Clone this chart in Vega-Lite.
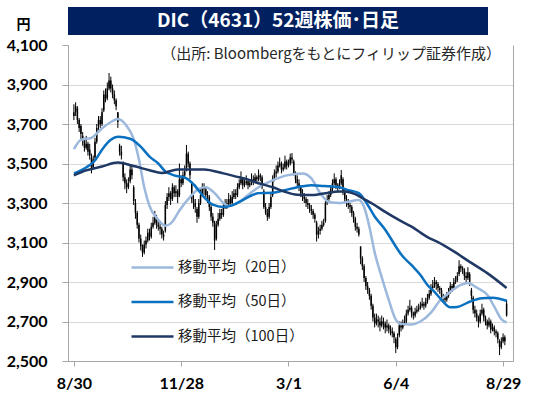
{
"$schema":"https://vega.github.io/schema/vega-lite/v6.json",
"padding":{"left":6,"top":7,"right":29,"bottom":5},
"background":"white",
"config":{"view":{"stroke":null}},
"spacing":10,
"bounds":"flush",
"datasets":{
"ohlc":[
{"i":0,"o":3740,"h":3800,"l":3720,"c":3760},{"i":1,"o":3760,"h":3810,"l":3740,"c":3790},{"i":2,"o":3780,"h":3790,"l":3700,"c":3720},{"i":3,"o":3720,"h":3730,"l":3660,"c":3680},{"i":4,"o":3690,"h":3700,"l":3620,"c":3650},{"i":5,"o":3640,"h":3660,"l":3590,"c":3620},{"i":6,"o":3620,"h":3630,"l":3560,"c":3580},{"i":7,"o":3580,"h":3640,"l":3570,"c":3600},{"i":8,"o":3600,"h":3610,"l":3540,"c":3560},{"i":9,"o":3570,"h":3600,"l":3520,"c":3540},
{"i":10,"o":3530,"h":3550,"l":3450,"c":3480},{"i":11,"o":3480,"h":3540,"l":3470,"c":3520},{"i":12,"o":3530,"h":3630,"l":3520,"c":3610},{"i":13,"o":3610,"h":3700,"l":3600,"c":3680},{"i":14,"o":3690,"h":3740,"l":3670,"c":3720},{"i":15,"o":3720,"h":3740,"l":3680,"c":3700},{"i":16,"o":3700,"h":3780,"l":3690,"c":3760},{"i":17,"o":3770,"h":3870,"l":3760,"c":3850},{"i":18,"o":3850,"h":3880,"l":3810,"c":3830},{"i":19,"o":3830,"h":3910,"l":3820,"c":3880},
{"i":20,"o":3880,"h":3958,"l":3870,"c":3920},{"i":21,"o":3920,"h":3940,"l":3860,"c":3880},{"i":22,"o":3880,"h":3900,"l":3830,"c":3850},{"i":23,"o":3850,"h":3870,"l":3800,"c":3820},{"i":24,"o":3820,"h":3830,"l":3770,"c":3790},{"i":25,"o":3760,"h":3760,"l":3680,"c":3710},{"i":26,"o":3590,"h":3600,"l":3540,"c":3560},{"i":27,"o":3560,"h":3590,"l":3520,"c":3540},{"i":28,"o":3500,"h":3510,"l":3410,"c":3430},{"i":29,"o":3430,"h":3450,"l":3370,"c":3400},
{"i":30,"o":3400,"h":3420,"l":3350,"c":3380},{"i":31,"o":3380,"h":3430,"l":3370,"c":3400},{"i":32,"o":3410,"h":3490,"l":3400,"c":3470},{"i":33,"o":3470,"h":3490,"l":3420,"c":3440},{"i":34,"o":3380,"h":3390,"l":3290,"c":3310},{"i":35,"o":3300,"h":3320,"l":3220,"c":3250},{"i":36,"o":3250,"h":3260,"l":3170,"c":3190},{"i":37,"o":3190,"h":3200,"l":3100,"c":3120},{"i":38,"o":3120,"h":3140,"l":3060,"c":3080},{"i":39,"o":3080,"h":3090,"l":3027,"c":3050},
{"i":40,"o":3050,"h":3110,"l":3040,"c":3090},{"i":41,"o":3090,"h":3130,"l":3070,"c":3110},{"i":42,"o":3110,"h":3170,"l":3100,"c":3150},{"i":43,"o":3150,"h":3170,"l":3110,"c":3130},{"i":44,"o":3130,"h":3200,"l":3120,"c":3180},{"i":45,"o":3180,"h":3230,"l":3170,"c":3200},{"i":46,"o":3200,"h":3260,"l":3190,"c":3230},{"i":47,"o":3230,"h":3240,"l":3170,"c":3190},{"i":48,"o":3190,"h":3220,"l":3160,"c":3180},{"i":49,"o":3180,"h":3200,"l":3140,"c":3170},
{"i":50,"o":3170,"h":3180,"l":3120,"c":3140},{"i":51,"o":3140,"h":3160,"l":3110,"c":3130},{"i":52,"o":3160,"h":3310,"l":3150,"c":3290},{"i":53,"o":3290,"h":3350,"l":3270,"c":3330},{"i":54,"o":3330,"h":3380,"l":3310,"c":3350},{"i":55,"o":3350,"h":3360,"l":3290,"c":3320},{"i":56,"o":3320,"h":3400,"l":3310,"c":3380},{"i":57,"o":3380,"h":3390,"l":3330,"c":3350},{"i":58,"o":3350,"h":3390,"l":3330,"c":3360},{"i":59,"o":3360,"h":3370,"l":3300,"c":3330},
{"i":60,"o":3340,"h":3500,"l":3330,"c":3420},{"i":61,"o":3420,"h":3440,"l":3380,"c":3400},{"i":62,"o":3400,"h":3460,"l":3390,"c":3440},{"i":63,"o":3440,"h":3490,"l":3430,"c":3460},{"i":64,"o":3470,"h":3594,"l":3460,"c":3550},{"i":65,"o":3550,"h":3560,"l":3480,"c":3500},{"i":66,"o":3500,"h":3510,"l":3420,"c":3440},{"i":67,"o":3400,"h":3410,"l":3300,"c":3320},{"i":68,"o":3320,"h":3340,"l":3270,"c":3300},{"i":69,"o":3300,"h":3320,"l":3250,"c":3280},
{"i":70,"o":3270,"h":3280,"l":3200,"c":3230},{"i":71,"o":3230,"h":3320,"l":3220,"c":3300},{"i":72,"o":3300,"h":3370,"l":3290,"c":3340},{"i":73,"o":3340,"h":3400,"l":3330,"c":3380},{"i":74,"o":3380,"h":3400,"l":3340,"c":3370},{"i":75,"o":3370,"h":3380,"l":3320,"c":3340},{"i":76,"o":3340,"h":3360,"l":3300,"c":3330},{"i":77,"o":3330,"h":3340,"l":3260,"c":3280},{"i":78,"o":3280,"h":3290,"l":3210,"c":3230},{"i":79,"o":3230,"h":3250,"l":3180,"c":3200},
{"i":80,"o":3200,"h":3210,"l":3062,"c":3110},{"i":81,"o":3120,"h":3210,"l":3110,"c":3190},{"i":82,"o":3190,"h":3250,"l":3180,"c":3220},{"i":83,"o":3220,"h":3270,"l":3210,"c":3250},{"i":84,"o":3250,"h":3270,"l":3220,"c":3240},{"i":85,"o":3240,"h":3300,"l":3230,"c":3280},{"i":86,"o":3280,"h":3320,"l":3270,"c":3300},{"i":87,"o":3300,"h":3320,"l":3270,"c":3290},{"i":88,"o":3290,"h":3350,"l":3280,"c":3320},{"i":89,"o":3320,"h":3340,"l":3280,"c":3300},
{"i":90,"o":3300,"h":3360,"l":3290,"c":3330},{"i":91,"o":3330,"h":3370,"l":3320,"c":3350},{"i":92,"o":3350,"h":3370,"l":3320,"c":3340},{"i":93,"o":3340,"h":3400,"l":3330,"c":3380},{"i":94,"o":3380,"h":3420,"l":3370,"c":3400},{"i":95,"o":3400,"h":3460,"l":3390,"c":3420},{"i":96,"o":3420,"h":3430,"l":3370,"c":3390},{"i":97,"o":3390,"h":3420,"l":3380,"c":3400},{"i":98,"o":3400,"h":3440,"l":3390,"c":3410},{"i":99,"o":3410,"h":3420,"l":3370,"c":3390},
{"i":100,"o":3390,"h":3420,"l":3380,"c":3400},{"i":101,"o":3400,"h":3450,"l":3390,"c":3420},{"i":102,"o":3420,"h":3440,"l":3390,"c":3410},{"i":103,"o":3410,"h":3450,"l":3400,"c":3430},{"i":104,"o":3430,"h":3440,"l":3400,"c":3420},{"i":105,"o":3420,"h":3470,"l":3410,"c":3440},{"i":106,"o":3440,"h":3450,"l":3410,"c":3430},{"i":107,"o":3430,"h":3440,"l":3370,"c":3380},{"i":108,"o":3360,"h":3370,"l":3270,"c":3280},{"i":109,"o":3280,"h":3300,"l":3240,"c":3250},
{"i":110,"o":3250,"h":3270,"l":3210,"c":3230},{"i":111,"o":3230,"h":3300,"l":3220,"c":3280},{"i":112,"o":3280,"h":3350,"l":3270,"c":3330},{"i":113,"o":3340,"h":3440,"l":3330,"c":3420},{"i":114,"o":3420,"h":3470,"l":3410,"c":3450},{"i":115,"o":3450,"h":3490,"l":3430,"c":3460},{"i":116,"o":3460,"h":3510,"l":3450,"c":3490},{"i":117,"o":3490,"h":3530,"l":3480,"c":3500},{"i":118,"o":3500,"h":3510,"l":3450,"c":3470},{"i":119,"o":3470,"h":3500,"l":3460,"c":3480},
{"i":120,"o":3480,"h":3540,"l":3470,"c":3510},{"i":121,"o":3510,"h":3520,"l":3470,"c":3490},{"i":122,"o":3490,"h":3520,"l":3480,"c":3500},{"i":123,"o":3500,"h":3550,"l":3490,"c":3530},{"i":124,"o":3530,"h":3553,"l":3500,"c":3520},{"i":125,"o":3510,"h":3520,"l":3440,"c":3450},{"i":126,"o":3450,"h":3460,"l":3400,"c":3420},{"i":127,"o":3420,"h":3440,"l":3380,"c":3400},{"i":128,"o":3400,"h":3420,"l":3360,"c":3380},{"i":129,"o":3380,"h":3390,"l":3330,"c":3350},
{"i":130,"o":3350,"h":3370,"l":3310,"c":3330},{"i":131,"o":3330,"h":3350,"l":3300,"c":3320},{"i":132,"o":3320,"h":3330,"l":3280,"c":3300},{"i":133,"o":3300,"h":3320,"l":3270,"c":3290},{"i":134,"o":3290,"h":3300,"l":3250,"c":3270},{"i":135,"o":3270,"h":3290,"l":3240,"c":3260},{"i":136,"o":3260,"h":3270,"l":3220,"c":3240},{"i":137,"o":3240,"h":3250,"l":3200,"c":3220},{"i":138,"o":3200,"h":3210,"l":3105,"c":3140},{"i":139,"o":3140,"h":3180,"l":3120,"c":3160},
{"i":140,"o":3160,"h":3190,"l":3140,"c":3170},{"i":141,"o":3170,"h":3210,"l":3160,"c":3190},{"i":142,"o":3190,"h":3220,"l":3180,"c":3200},{"i":143,"o":3210,"h":3310,"l":3200,"c":3300},{"i":144,"o":3300,"h":3340,"l":3290,"c":3320},{"i":145,"o":3320,"h":3360,"l":3310,"c":3340},{"i":146,"o":3340,"h":3390,"l":3330,"c":3370},{"i":147,"o":3370,"h":3420,"l":3360,"c":3400},{"i":148,"o":3400,"h":3450,"l":3390,"c":3420},{"i":149,"o":3420,"h":3430,"l":3370,"c":3390},
{"i":150,"o":3390,"h":3400,"l":3360,"c":3380},{"i":151,"o":3380,"h":3420,"l":3370,"c":3400},{"i":152,"o":3400,"h":3467,"l":3390,"c":3440},{"i":153,"o":3420,"h":3430,"l":3340,"c":3360},{"i":154,"o":3360,"h":3370,"l":3300,"c":3320},{"i":155,"o":3320,"h":3340,"l":3280,"c":3300},{"i":156,"o":3300,"h":3320,"l":3270,"c":3290},{"i":157,"o":3290,"h":3300,"l":3250,"c":3280},{"i":158,"o":3280,"h":3290,"l":3230,"c":3250},{"i":159,"o":3250,"h":3260,"l":3200,"c":3220},
{"i":160,"o":3220,"h":3230,"l":3160,"c":3180},{"i":161,"o":3180,"h":3200,"l":3150,"c":3170},{"i":162,"o":3170,"h":3180,"l":3130,"c":3140},{"i":163,"o":3080,"h":3080,"l":2990,"c":3020},{"i":164,"o":3020,"h":3030,"l":2960,"c":2980},{"i":165,"o":2980,"h":2990,"l":2900,"c":2920},{"i":166,"o":2920,"h":2930,"l":2860,"c":2880},{"i":167,"o":2880,"h":2900,"l":2840,"c":2860},{"i":168,"o":2860,"h":2870,"l":2810,"c":2830},{"i":169,"o":2830,"h":2840,"l":2760,"c":2780},
{"i":170,"o":2780,"h":2790,"l":2700,"c":2720},{"i":171,"o":2720,"h":2740,"l":2670,"c":2690},{"i":172,"o":2690,"h":2740,"l":2680,"c":2710},{"i":173,"o":2710,"h":2730,"l":2670,"c":2700},{"i":174,"o":2700,"h":2720,"l":2650,"c":2680},{"i":175,"o":2680,"h":2730,"l":2670,"c":2700},{"i":176,"o":2700,"h":2720,"l":2660,"c":2690},{"i":177,"o":2690,"h":2700,"l":2640,"c":2670},{"i":178,"o":2670,"h":2710,"l":2650,"c":2680},{"i":179,"o":2680,"h":2690,"l":2640,"c":2660},
{"i":180,"o":2660,"h":2680,"l":2630,"c":2650},{"i":181,"o":2650,"h":2670,"l":2620,"c":2640},{"i":182,"o":2640,"h":2650,"l":2590,"c":2620},{"i":183,"o":2610,"h":2620,"l":2540,"c":2570},{"i":184,"o":2570,"h":2640,"l":2560,"c":2620},{"i":185,"o":2630,"h":2700,"l":2620,"c":2680},{"i":186,"o":2680,"h":2700,"l":2650,"c":2670},{"i":187,"o":2670,"h":2710,"l":2660,"c":2690},{"i":188,"o":2690,"h":2730,"l":2680,"c":2700},{"i":189,"o":2700,"h":2760,"l":2690,"c":2740},
{"i":190,"o":2740,"h":2780,"l":2730,"c":2760},{"i":191,"o":2760,"h":2810,"l":2750,"c":2770},{"i":192,"o":2770,"h":2780,"l":2720,"c":2740},{"i":193,"o":2740,"h":2750,"l":2710,"c":2730},{"i":194,"o":2730,"h":2770,"l":2720,"c":2750},{"i":195,"o":2750,"h":2780,"l":2740,"c":2760},{"i":196,"o":2760,"h":2790,"l":2750,"c":2770},{"i":197,"o":2770,"h":2800,"l":2760,"c":2780},{"i":198,"o":2780,"h":2820,"l":2770,"c":2790},{"i":199,"o":2790,"h":2800,"l":2760,"c":2780},
{"i":200,"o":2780,"h":2820,"l":2770,"c":2800},{"i":201,"o":2800,"h":2840,"l":2790,"c":2820},{"i":202,"o":2820,"h":2860,"l":2810,"c":2840},{"i":203,"o":2840,"h":2890,"l":2830,"c":2870},{"i":204,"o":2870,"h":2910,"l":2860,"c":2880},{"i":205,"o":2880,"h":2925,"l":2870,"c":2900},{"i":206,"o":2900,"h":2910,"l":2860,"c":2890},{"i":207,"o":2890,"h":2900,"l":2850,"c":2870},{"i":208,"o":2870,"h":2880,"l":2840,"c":2860},{"i":209,"o":2860,"h":2870,"l":2810,"c":2830},
{"i":210,"o":2830,"h":2840,"l":2800,"c":2820},{"i":211,"o":2820,"h":2830,"l":2790,"c":2810},{"i":212,"o":2810,"h":2850,"l":2800,"c":2830},{"i":213,"o":2830,"h":2870,"l":2820,"c":2850},{"i":214,"o":2850,"h":2900,"l":2840,"c":2880},{"i":215,"o":2880,"h":2890,"l":2850,"c":2870},{"i":216,"o":2870,"h":2920,"l":2860,"c":2900},{"i":217,"o":2900,"h":2930,"l":2890,"c":2910},{"i":218,"o":2910,"h":2950,"l":2900,"c":2930},{"i":219,"o":2940,"h":3010,"l":2930,"c":2980},
{"i":220,"o":2980,"h":2990,"l":2950,"c":2970},{"i":221,"o":2970,"h":2980,"l":2940,"c":2960},{"i":222,"o":2960,"h":2970,"l":2910,"c":2930},{"i":223,"o":2930,"h":2950,"l":2900,"c":2920},{"i":224,"o":2920,"h":2975,"l":2910,"c":2950},{"i":225,"o":2940,"h":2950,"l":2880,"c":2900},{"i":226,"o":2860,"h":2870,"l":2810,"c":2830},{"i":227,"o":2820,"h":2830,"l":2740,"c":2760},{"i":228,"o":2760,"h":2780,"l":2720,"c":2740},{"i":229,"o":2740,"h":2760,"l":2700,"c":2720},
{"i":230,"o":2720,"h":2730,"l":2670,"c":2700},{"i":231,"o":2700,"h":2760,"l":2690,"c":2740},{"i":232,"o":2740,"h":2790,"l":2730,"c":2760},{"i":233,"o":2760,"h":2770,"l":2700,"c":2720},{"i":234,"o":2720,"h":2730,"l":2680,"c":2700},{"i":235,"o":2700,"h":2710,"l":2660,"c":2680},{"i":236,"o":2680,"h":2720,"l":2670,"c":2700},{"i":237,"o":2700,"h":2710,"l":2640,"c":2660},{"i":238,"o":2660,"h":2690,"l":2650,"c":2670},{"i":239,"o":2670,"h":2680,"l":2630,"c":2650},
{"i":240,"o":2650,"h":2660,"l":2620,"c":2640},{"i":241,"o":2640,"h":2650,"l":2590,"c":2610},{"i":242,"o":2600,"h":2610,"l":2530,"c":2570},{"i":243,"o":2570,"h":2620,"l":2560,"c":2600},{"i":244,"o":2600,"h":2640,"l":2590,"c":2620},{"i":245,"o":2620,"h":2630,"l":2580,"c":2600},{"i":246,"o":2730,"h":2810,"l":2725,"c":2790}
],
"ma":[
{"s":"移動平均（20日）","i":0,"v":3573},{"s":"移動平均（20日）","i":4,"v":3620},{"s":"移動平均（20日）","i":10,"v":3630},{"s":"移動平均（20日）","i":15,"v":3670},{"s":"移動平均（20日）","i":21,"v":3710},{"s":"移動平均（20日）","i":25,"v":3725},{"s":"移動平均（20日）","i":30,"v":3690},{"s":"移動平均（20日）","i":34,"v":3625},{"s":"移動平均（20日）","i":37,"v":3520},{"s":"移動平均（20日）","i":40,"v":3380},{"s":"移動平均（20日）","i":43,"v":3285},{"s":"移動平均（20日）","i":48,"v":3215},{"s":"移動平均（20日）","i":52,"v":3185},{"s":"移動平均（20日）","i":56,"v":3205},{"s":"移動平均（20日）","i":60,"v":3262},{"s":"移動平均（20日）","i":66,"v":3330},{"s":"移動平均（20日）","i":71,"v":3372},{"s":"移動平均（20日）","i":75,"v":3380},{"s":"移動平均（20日）","i":80,"v":3350},{"s":"移動平均（20日）","i":85,"v":3300},{"s":"移動平均（20日）","i":88,"v":3285},{"s":"移動平均（20日）","i":94,"v":3305},{"s":"移動平均（20日）","i":101,"v":3355},{"s":"移動平均（20日）","i":105,"v":3380},{"s":"移動平均（20日）","i":113,"v":3415},{"s":"移動平均（20日）","i":121,"v":3440},{"s":"移動平均（20日）","i":130,"v":3450},{"s":"移動平均（20日）","i":135,"v":3425},{"s":"移動平均（20日）","i":140,"v":3350},{"s":"移動平均（20日）","i":145,"v":3305},{"s":"移動平均（20日）","i":151,"v":3300},{"s":"移動平均（20日）","i":155,"v":3305},{"s":"移動平均（20日）","i":162,"v":3315},{"s":"移動平均（20日）","i":165,"v":3280},{"s":"移動平均（20日）","i":168,"v":3180},{"s":"移動平均（20日）","i":171,"v":3050},{"s":"移動平均（20日）","i":175,"v":2925},{"s":"移動平均（20日）","i":179,"v":2810},{"s":"移動平均（20日）","i":183,"v":2710},{"s":"移動平均（20日）","i":186,"v":2688},{"s":"移動平均（20日）","i":192,"v":2685},{"s":"移動平均（20日）","i":197,"v":2700},{"s":"移動平均（20日）","i":203,"v":2745},{"s":"移動平均（20日）","i":208,"v":2805},{"s":"移動平均（20日）","i":214,"v":2850},{"s":"移動平均（20日）","i":220,"v":2885},{"s":"移動平均（20日）","i":224,"v":2895},{"s":"移動平均（20日）","i":229,"v":2872},{"s":"移動平均（20日）","i":235,"v":2835},{"s":"移動平均（20日）","i":239,"v":2775},{"s":"移動平均（20日）","i":243,"v":2712},{"s":"移動平均（20日）","i":246,"v":2695},
{"s":"移動平均（50日）","i":0,"v":3450},{"s":"移動平均（50日）","i":7,"v":3480},{"s":"移動平均（50日）","i":12,"v":3515},{"s":"移動平均（50日）","i":16,"v":3570},{"s":"移動平均（50日）","i":21,"v":3620},{"s":"移動平均（50日）","i":25,"v":3635},{"s":"移動平均（50日）","i":32,"v":3625},{"s":"移動平均（50日）","i":38,"v":3585},{"s":"移動平均（50日）","i":43,"v":3535},{"s":"移動平均（50日）","i":48,"v":3500},{"s":"移動平均（50日）","i":52,"v":3460},{"s":"移動平均（50日）","i":57,"v":3440},{"s":"移動平均（50日）","i":64,"v":3425},{"s":"移動平均（50日）","i":68,"v":3395},{"s":"移動平均（50日）","i":74,"v":3330},{"s":"移動平均（50日）","i":79,"v":3292},{"s":"移動平均（50日）","i":85,"v":3280},{"s":"移動平均（50日）","i":90,"v":3288},{"s":"移動平均（50日）","i":96,"v":3315},{"s":"移動平均（50日）","i":101,"v":3338},{"s":"移動平均（50日）","i":105,"v":3350},{"s":"移動平均（50日）","i":113,"v":3352},{"s":"移動平均（50日）","i":120,"v":3365},{"s":"移動平均（50日）","i":127,"v":3380},{"s":"移動平均（50日）","i":135,"v":3390},{"s":"移動平均（50日）","i":142,"v":3386},{"s":"移動平均（50日）","i":151,"v":3380},{"s":"移動平均（50日）","i":155,"v":3368},{"s":"移動平均（50日）","i":162,"v":3350},{"s":"移動平均（50日）","i":166,"v":3305},{"s":"移動平均（50日）","i":171,"v":3232},{"s":"移動平均（50日）","i":177,"v":3165},{"s":"移動平均（50日）","i":183,"v":3080},{"s":"移動平均（50日）","i":186,"v":3040},{"s":"移動平均（50日）","i":192,"v":2985},{"s":"移動平均（50日）","i":197,"v":2935},{"s":"移動平均（50日）","i":201,"v":2885},{"s":"移動平均（50日）","i":205,"v":2850},{"s":"移動平均（50日）","i":209,"v":2810},{"s":"移動平均（50日）","i":214,"v":2772},{"s":"移動平均（50日）","i":218,"v":2774},{"s":"移動平均（50日）","i":225,"v":2800},{"s":"移動平均（50日）","i":232,"v":2818},{"s":"移動平均（50日）","i":238,"v":2820},{"s":"移動平均（50日）","i":246,"v":2805},
{"s":"移動平均（100日）","i":0,"v":3440},{"s":"移動平均（100日）","i":7,"v":3465},{"s":"移動平均（100日）","i":16,"v":3485},{"s":"移動平均（100日）","i":25,"v":3505},{"s":"移動平均（100日）","i":34,"v":3487},{"s":"移動平均（100日）","i":43,"v":3466},{"s":"移動平均（100日）","i":50,"v":3452},{"s":"移動平均（100日）","i":59,"v":3470},{"s":"移動平均（100日）","i":74,"v":3470},{"s":"移動平均（100日）","i":85,"v":3450},{"s":"移動平均（100日）","i":94,"v":3430},{"s":"移動平均（100日）","i":98,"v":3422},{"s":"移動平均（100日）","i":105,"v":3400},{"s":"移動平均（100日）","i":113,"v":3380},{"s":"移動平均（100日）","i":120,"v":3357},{"s":"移動平均（100日）","i":127,"v":3342},{"s":"移動平均（100日）","i":135,"v":3340},{"s":"移動平均（100日）","i":142,"v":3348},{"s":"移動平均（100日）","i":151,"v":3358},{"s":"移動平均（100日）","i":155,"v":3357},{"s":"移動平均（100日）","i":160,"v":3345},{"s":"移動平均（100日）","i":165,"v":3320},{"s":"移動平均（100日）","i":170,"v":3295},{"s":"移動平均（100日）","i":177,"v":3255},{"s":"移動平均（100日）","i":185,"v":3213},{"s":"移動平均（100日）","i":192,"v":3180},{"s":"移動平均（100日）","i":201,"v":3127},{"s":"移動平均（100日）","i":207,"v":3102},{"s":"移動平均（100日）","i":216,"v":3055},{"s":"移動平均（100日）","i":225,"v":3002},{"s":"移動平均（100日）","i":235,"v":2945},{"s":"移動平均（100日）","i":246,"v":2870}
]
},
"vconcat":[
{
"width":420,"height":28,
"title":{"text":"（出所: Bloombergをもとにフィリップ証券作成）","orient":"bottom","font":"Noto Sans CJK JP","fontSize":15,"fontWeight":"normal","color":"#262626","anchor":"end","frame":"group","offset":12,"dx":13},
"data":{"values":[{"a":0,"b":1,"t":"DIC（4631）52週株価･日足"}]},
"layer":[
{"mark":{"type":"rect","color":"#002060"},
"encoding":{"x":{"field":"a","type":"quantitative","scale":{"domain":[0,1],"nice":false},"axis":null},"x2":{"field":"b"},"y":{"field":"a","type":"quantitative","scale":{"domain":[0,1],"nice":false},"axis":null},"y2":{"field":"b"}}},
{"mark":{"type":"text","color":"#ffffff","font":"Noto Sans CJK JP","fontSize":19,"fontWeight":"bold","baseline":"middle","align":"center"},
"encoding":{"text":{"field":"t"}}}
]
},
{
"width":445,"height":316,
"encoding":{"x":{"field":"i","type":"quantitative","scale":{"domain":[-0.5,246.8],"nice":false,"zero":false},
"axis":{"values":[0,61,122,183,244],"labelExpr":"datum.value==0?'8/30':datum.value==61?'11/28':datum.value==122?'3/1':datum.value==183?'6/4':'8/29'","title":null,"grid":false,"labelFont":"Lato","labelFontSize":16,"labelFontWeight":"bold","labelColor":"#000000","labelFlush":false,"labelOverlap":false,"labelPadding":9,"tickSize":5,"tickColor":"#a6a6a6","domainColor":"#a6a6a6"}}},
"layer":[
{"data":{"name":"ohlc"},"mark":{"type":"rule","color":"#000000","strokeWidth":1},
"encoding":{"y":{"field":"l","type":"quantitative","scale":{"domain":[2500,4100],"nice":false,"zero":false},
"axis":{"values":[2500,2700,2900,3100,3300,3500,3700,3900,4100],"format":",d","title":"円","titleAngle":0,"titleX":-45,"titleY":-21,"titleFont":"Noto Sans CJK JP","titleFontSize":14,"titleFontWeight":"bold","titleColor":"#000000","titleAlign":"center","titleBaseline":"middle","labelFont":"Lato","labelFontSize":16,"labelFontWeight":"bold","labelColor":"#000000","labelPadding":15,"tickSize":6,"tickColor":"#a6a6a6","domainColor":"#a6a6a6","grid":true,"gridColor":{"condition":{"test":"datum.value >= 4100","value":"transparent"},"value":"#d9d9d9"}}},
"y2":{"field":"h"}}},
{"data":{"name":"ohlc"},"mark":{"type":"bar","color":"#000000","size":1.5},
"encoding":{"y":{"field":"o","type":"quantitative","scale":{"domain":[2500,4100],"nice":false,"zero":false},"axis":null},"y2":{"field":"c"}}},
{"data":{"name":"ma"},"mark":{"type":"line","strokeWidth":2.5,"interpolate":"monotone"},
"encoding":{"y":{"field":"v","type":"quantitative","scale":{"domain":[2500,4100],"nice":false,"zero":false},"axis":{"orient":"right","labels":false,"ticks":false,"grid":false,"title":null,"domainColor":"#a6a6a6"}},
"color":{"field":"s","type":"nominal","scale":{"domain":["移動平均（20日）","移動平均（50日）","移動平均（100日）"],"range":["#9cb8dc","#0a70c0","#1f3864"]},
"legend":{"orient":"none","legendX":62,"legendY":238,"title":null,"symbolType":"stroke","symbolSize":1764,"symbolStrokeWidth":2.5,"labelFont":"Noto Sans CJK JP","labelFontSize":14.5,"labelColor":"#1a1a1a","labelOffset":3,"rowPadding":5.5,"padding":0,"labelLimit":300}}}}
],
"resolve":{"axis":{"y":"independent"}}
}
]
}
